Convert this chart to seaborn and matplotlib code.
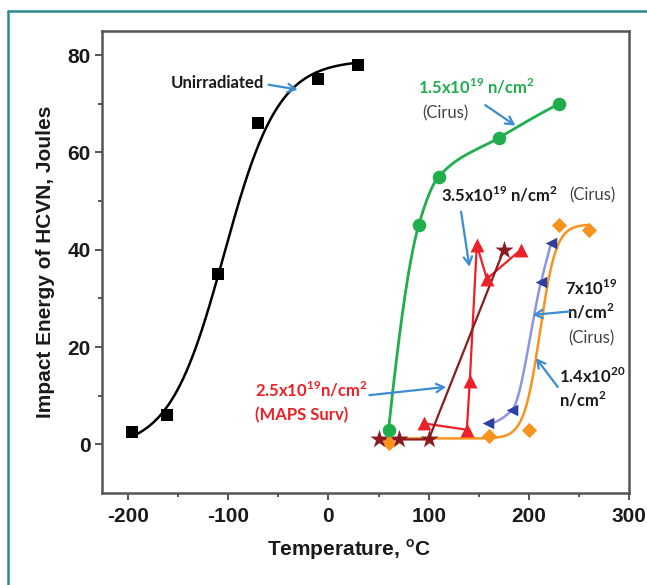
import numpy as np
import matplotlib
matplotlib.use("Agg")
import matplotlib.pyplot as plt
from matplotlib.lines import Line2D
import seaborn as sns

# ---------------- data ----------------
unirr_T = [-196, -161, -110, -70, -10, 30]
unirr_E = [2.5, 6, 35, 66, 75, 78]
unirr_fit = (39.0, 40.0, -104.0, 54.0)      # A, B, T0, C of tanh fit

cirus15_T = [60, 90, 110, 170, 230]
cirus15_E = [3, 45, 55, 63, 70]

maps25_T = [95, 138, 141, 148, 158, 192]
maps25_E = [4.3, 3, 13, 41, 34, 40]

cirus35_T = [50, 70, 100, 175]
cirus35_E = [1, 1, 1, 40]

cirus7_T = [159, 183, 212, 222]
cirus7_E = [4.3, 7, 33.4, 41.3]

f14_T = [60, 160, 200, 230, 260]
f14_E = [0.2, 1.7, 3, 45, 44]
f14_fit = (23.2, 22.0, 211.0, 16.0)

x_ticks = [-200, -100, 0, 100, 200, 300]
y_ticks = [0, 20, 40, 60, 80]


def tanh_curve(params, t):
    a, b, t0, c = params
    return a + b * np.tanh((t - t0) / c)


def pchip(x, y, xs):
    x = np.asarray(x, float); y = np.asarray(y, float)
    h = np.diff(x); d = np.diff(y) / h
    n = len(x); m = np.zeros(n)
    for k in range(1, n - 1):
        if d[k - 1] * d[k] > 0:
            w1 = 2 * h[k] + h[k - 1]; w2 = h[k] + 2 * h[k - 1]
            m[k] = (w1 + w2) / (w1 / d[k - 1] + w2 / d[k])
    m[0] = ((2 * h[0] + h[1]) * d[0] - h[0] * d[1]) / (h[0] + h[1])
    if np.sign(m[0]) != np.sign(d[0]):
        m[0] = 0
    m[-1] = ((2 * h[-1] + h[-2]) * d[-1] - h[-1] * d[-2]) / (h[-1] + h[-2])
    if np.sign(m[-1]) != np.sign(d[-1]):
        m[-1] = 0
    idx = np.clip(np.searchsorted(x, xs) - 1, 0, n - 2)
    t = (xs - x[idx]) / h[idx]
    h00 = 2 * t**3 - 3 * t**2 + 1; h10 = t**3 - 2 * t**2 + t
    h01 = -2 * t**3 + 3 * t**2; h11 = t**3 - t**2
    return h00 * y[idx] + h10 * h[idx] * m[idx] + h01 * y[idx + 1] + h11 * h[idx] * m[idx + 1]


sns.set_style("ticks")
plt.rcParams["font.family"] = ["Liberation Sans", "DejaVu Sans"]
plt.rcParams["axes.unicode_minus"] = False
plt.rcParams["mathtext.fontset"] = "custom"
plt.rcParams["mathtext.rm"] = "Lato"
plt.rcParams["mathtext.bf"] = "Lato:bold"

fig = plt.figure(figsize=(6.47, 5.85), dpi=100)
ax = fig.add_axes([0.157, 0.1573, 0.9727 - 0.157, 0.9475 - 0.1573])

GREEN = "#1fae4b"
RED = "#ec2027"
BROWN = "#8a1b1e"
ORANGE = "#f7931e"
BLUE_M = "#2e3f9f"
BLUE_L = "#8f93e0"
ARROW = "#3a8dd4"

# fitted / smooth curves
tu = np.linspace(min(unirr_T), max(unirr_T), 300)
sns.lineplot(x=tu, y=tanh_curve(unirr_fit, tu), ax=ax, color="black", lw=1.8, zorder=2)

to = np.linspace(min(f14_T), max(f14_T), 300)
sns.lineplot(x=to, y=tanh_curve(f14_fit, to), ax=ax, color=ORANGE, lw=1.8, zorder=2)

tg = np.linspace(min(cirus15_T), max(cirus15_T), 300)
sns.lineplot(x=tg, y=pchip(cirus15_T, cirus15_E, tg), ax=ax, color=GREEN, lw=2.0, zorder=4)

tb = np.linspace(min(cirus7_T), max(cirus7_T), 300)
sns.lineplot(x=tb, y=pchip(cirus7_T, cirus7_E, tb), ax=ax, color=BLUE_L, lw=1.8, zorder=3)

# straight connected series
sns.lineplot(x=maps25_T, y=maps25_E, ax=ax, color=RED, lw=1.6, sort=False, estimator=None, zorder=3)
sns.lineplot(x=cirus35_T, y=cirus35_E, ax=ax, color=BROWN, lw=1.6, sort=False, estimator=None, zorder=3)

# markers
sns.scatterplot(x=f14_T, y=f14_E, ax=ax, marker="D", s=60, color=ORANGE, linewidth=0, zorder=5)
sns.scatterplot(x=unirr_T, y=unirr_E, ax=ax, marker="s", s=80, color="black", linewidth=0, zorder=5)
sns.scatterplot(x=maps25_T, y=maps25_E, ax=ax, marker="^", s=100, color=RED, linewidth=0, zorder=5)
sns.scatterplot(x=cirus7_T, y=cirus7_E, ax=ax, marker="<", s=70, color=BLUE_M, linewidth=0, zorder=5)
sns.scatterplot(x=cirus35_T, y=cirus35_E, ax=ax, marker="*", s=190, color=BROWN, linewidth=0, zorder=6)
sns.scatterplot(x=cirus15_T, y=cirus15_E, ax=ax, marker="o", s=95, color=GREEN, linewidth=0, zorder=7)

# axes styling
ax.set_xlim(-226, 300)
ax.set_ylim(-10, 85)
ax.set_xticks(x_ticks)
ax.set_yticks(y_ticks)
ax.set_xticks([-150, -50, 50, 150, 250], minor=True)
ax.set_yticks([10, 30, 50, 70], minor=True)
for s in ax.spines.values():
    s.set_color("#555555")
    s.set_linewidth(1.8)
ax.tick_params(which="major", length=5, width=1.4, color="#555555", labelsize=15, pad=5)
ax.tick_params(which="minor", length=3, width=1.4, color="#555555")
ax.tick_params(axis="y", pad=3)
for lab in ax.get_xticklabels() + ax.get_yticklabels():
    lab.set_fontweight("bold")
    lab.set_color("#1a1a1a")

ax.set_xlabel(r"Temperature, $^{\mathbf{o}}$C", fontsize=15, fontweight="bold", color="#1a1a1a")
ax.set_ylabel("Impact Energy of HCVN, Joules", fontsize=15, fontweight="bold", color="#1a1a1a")
ax.xaxis.label.set_va("center")
ax.yaxis.label.set_va("center")
ax.xaxis.set_label_coords(0.469, -0.123)
ax.yaxis.set_label_coords(-0.107, 0.5)

# annotations
AF = ["Lato", "DejaVu Sans"]
def txt(x, y, s, color="#1a1a1a", weight="bold", ha="left"):
    ax.text(x, y, s, color=color, fontsize=12, fontweight=weight, family=AF,
            ha=ha, va="center", zorder=8)

def arrow(x0, y0, x1, y1):
    ax.annotate("", xy=(x1, y1), xytext=(x0, y0),
                arrowprops=dict(arrowstyle="->,head_length=0.55,head_width=0.3",
                                color=ARROW, lw=1.6, shrinkA=0, shrinkB=0), zorder=8)

txt(-63.8, 74.3, "Unirradiated", ha="right")
arrow(-59.6, 73.9, -30.6, 72.9)

txt(89, 73.4, r"1.5x10$^{\mathbf{19}}$ n/cm$^{\mathbf{2}}$", color=GREEN)
txt(93.4, 68.0, "(Cirus)", color="#444444", weight="normal")
arrow(156.5, 69.7, 186.4, 65.5)

txt(112.4, 51.2, r"3.5x10$^{\mathbf{19}}$ n/cm$^{\mathbf{2}}$")
txt(240, 51.2, "(Cirus)", color="#444444", weight="normal")
arrow(132.3, 47.8, 140.6, 36.5)

txt(262, 32.1, r"7x10$^{\mathbf{19}}$", ha="center")
txt(262, 27.3, r"n/cm$^{\mathbf{2}}$", ha="center")
txt(262, 21.8, "(Cirus)", color="#444444", weight="normal", ha="center")
arrow(240.3, 27.3, 203.7, 26.6)

txt(230.3, 13.9, r"1.4x10$^{\mathbf{20}}$")
txt(230.3, 9.1, r"n/cm$^{\mathbf{2}}$")
arrow(228.6, 11.8, 207, 17.7)

txt(-72.8, 11.2, r"2.5x10$^{\mathbf{19}}$n/cm$^{\mathbf{2}}$", color=RED)
txt(-72.8, 6.0, "(MAPS Surv)", color=RED)
arrow(40.9, 10.1, 117.4, 11.8)

# teal frame (left and top edges visible)
W, H = 647, 585
fig.add_artist(Line2D([8 / W, 8 / W], [0, 1 - 11 / H], color="#2a8a8f", lw=1.8))
fig.add_artist(Line2D([8 / W, 1], [1 - 11 / H, 1 - 11 / H], color="#2a8a8f", lw=1.8))

fig.savefig("out.png", dpi=100)
